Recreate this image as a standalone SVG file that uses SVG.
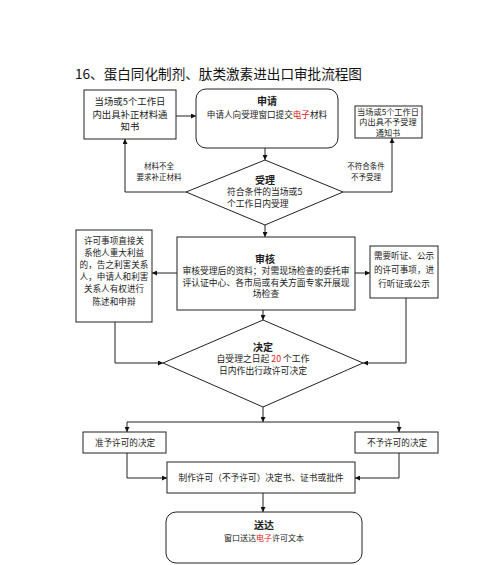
<svg xmlns="http://www.w3.org/2000/svg" width="500" height="565" viewBox="0 0 500 565">
<defs>
<marker id="ah" viewBox="0 0 10 10" refX="10" refY="5" markerWidth="5" markerHeight="5" orient="auto" markerUnits="userSpaceOnUse">
<path d="M0,0 L10,5 L0,10 z" fill="#111"/>
</marker>
<style>
text{font-family:"Noto Sans CJK SC","Liberation Sans",sans-serif;fill:#222;text-anchor:middle}
.box{fill:#fff;stroke:#222;stroke-width:1}
.ln{fill:none;stroke:#222;stroke-width:1;marker-end:url(#ah)}
.pl{fill:none;stroke:#222;stroke-width:1}
.t{font-size:8.8px}
.s{font-size:7.5px}
.b{font-size:10px;font-weight:bold}
.red{fill:#e02020}
</style>
</defs>
<rect width="500" height="565" fill="#fff"/>
<text x="75" y="79" style="font-size:13.6px;text-anchor:start;fill:#111">16、蛋白同化制剂、肽类激素进出口审批流程图</text>

<g id="connectors">
<path class="ln" d="M176,116 H196"/>
<path class="ln" d="M265,148 V160"/>
<path class="ln" d="M186,192 H125 V139"/>
<path class="ln" d="M343,192 H392 V138"/>
<path class="ln" d="M265,225 V237"/>
<path class="ln" d="M177,273 H152"/>
<path class="ln" d="M355,273 H370"/>
<path class="ln" d="M263,310 V320"/>
<path class="ln" d="M115,322 V363 H163"/>
<path class="ln" d="M406,298 V363 H363"/>
<path class="ln" d="M263,407 V422"/>
<path class="pl" d="M127,422 H399"/>
<path class="ln" d="M127,422 V432"/>
<path class="ln" d="M399,422 V432"/>
<path class="ln" d="M127,453 V478 H167"/>
<path class="ln" d="M399,453 V478 H355"/>
<path class="ln" d="M263,493 V512"/>
<text class="s" x="159" y="168.5">材料不全</text>
<text class="s" x="159" y="180">要求补正材料</text>
<text class="s" x="366" y="168.5">不符合条件</text>
<text class="s" x="366" y="180">不予受理</text>
</g>

<g id="node-buzheng">
<rect class="box" x="84" y="90" width="92" height="49"/>
<text class="t" x="130" y="105" style="font-size:9.4px">当场或5个工作日</text>
<text class="t" x="130" y="117.5" style="font-size:9.4px">内出具补正材料通</text>
<text class="t" x="130" y="130" style="font-size:9.4px">知书</text>
</g>

<g id="node-shenqing">
<rect class="box" x="196" y="89" width="142" height="59" rx="10"/>
<text class="b" x="267" y="105">申请</text>
<text class="t" x="267" y="118" style="font-size:8.6px">申请人向受理窗口提交<tspan class="red">电子</tspan>材料</text>
</g>

<g id="node-buyu">
<rect class="box" x="355" y="106" width="67" height="32"/>
<text class="t" x="388" y="114.5" style="font-size:8.2px">当场或5个工作日</text>
<text class="t" x="388" y="125" style="font-size:8.2px">内出具不予受理</text>
<text class="t" x="388" y="135.5" style="font-size:8.2px">通知书</text>
</g>

<g id="node-shouli">
<polygon class="box" points="265,160 343,192 265,225 186,192"/>
<text class="b" x="265" y="183.5">受理</text>
<text class="t" x="227" y="195" style="text-anchor:start">符合条件的当场或5</text>
<text class="t" x="227" y="206.5" style="text-anchor:start">个工作日内受理</text>
</g>

<g id="node-shenhe">
<rect class="box" x="177" y="237" width="178" height="73"/>
<text class="b" x="265" y="262.5">审核</text>
<text class="t" x="266" y="274">审核受理后的资料；对需现场检查的委托审</text>
<text class="t" x="266" y="285.5">评认证中心、各市局或有关方面专家开展现</text>
<text class="t" x="266" y="297">场检查</text>
</g>

<g id="node-xuke">
<rect class="box" x="76" y="230" width="76" height="92"/>
<text class="t" x="114" y="244" style="font-size:8.6px">许可事项直接关</text>
<text class="t" x="114" y="256" style="font-size:8.6px">系他人重大利益</text>
<text class="t" x="114" y="268" style="font-size:8.6px">的，告之利害关系</text>
<text class="t" x="114" y="280" style="font-size:8.6px">人，申请人和利害</text>
<text class="t" x="114" y="292" style="font-size:8.6px">关系人有权进行</text>
<text class="t" x="114" y="305" style="font-size:8.6px">陈述和申辩</text>
</g>

<g id="node-tingzheng">
<rect class="box" x="370" y="246" width="68" height="52"/>
<text class="t" x="404" y="259" style="font-size:8.6px">需要听证、公示</text>
<text class="t" x="404" y="273" style="font-size:8.6px">的许可事项，进</text>
<text class="t" x="404" y="287" style="font-size:8.6px">行听证或公示</text>
</g>

<g id="node-jueding">
<polygon class="box" points="263,320 363,363 263,407 163,363"/>
<text class="b" x="263" y="350.5">决定</text>
<text class="t" x="263" y="362">自受理之日起 <tspan class="red">20</tspan> 个工作</text>
<text class="t" x="263" y="373.5">日内作出行政许可决定</text>
</g>

<g id="node-zhunyu">
<rect class="box" x="83" y="432" width="83" height="21"/>
<text class="t" x="125" y="446" style="font-size:8.6px">准予许可的决定</text>
</g>

<g id="node-buyuxuke">
<rect class="box" x="355" y="432" width="83" height="21"/>
<text class="t" x="397" y="446" style="font-size:8.6px">不予许可的决定</text>
</g>

<g id="node-zhizuo">
<rect class="box" x="167" y="462" width="188" height="31"/>
<text class="t" x="261" y="481" style="font-size:8.7px">制作许可（不予许可）决定书、证书或批件</text>
</g>

<g id="node-songda">
<rect class="box" x="166" y="512" width="196" height="51" rx="10"/>
<text class="b" x="264" y="528.5">送达</text>
<text class="t" x="264" y="541" style="font-size:8px">窗口送达<tspan class="red">电子</tspan>许可文本</text>
</g>
</svg>
